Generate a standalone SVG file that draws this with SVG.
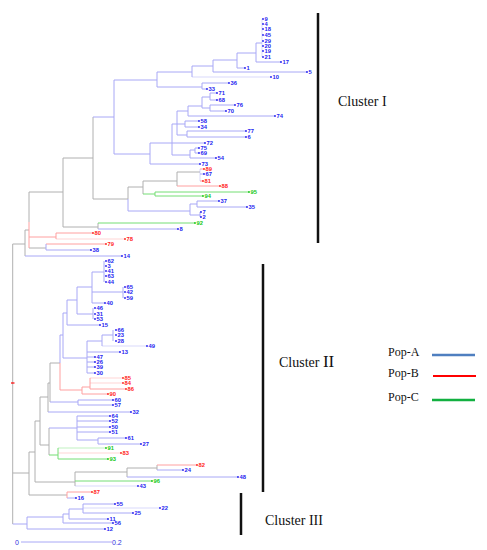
<svg xmlns="http://www.w3.org/2000/svg" width="487" height="550" viewBox="0 0 487 550">
<style>
.b{stroke:#a8a8f6;stroke-width:1;fill:none}
.r{stroke:#ffa0a0;stroke-width:1;fill:none}
.g{stroke:#74de74;stroke-width:1;fill:none}
.k{stroke:#b0b0b0;stroke-width:1;fill:none}
.f{stroke-opacity:0.45}
text{font-family:"Liberation Sans",Arial,sans-serif}
.lb,.lr,.lg{font-size:5.8px;font-weight:bold}
.lb{fill:#1c1cf0}.lr{fill:#ff1c1c}.lg{fill:#14c814}
.cl{font-family:"Liberation Serif","Times New Roman",serif;fill:#111}
.bar{stroke:#111;stroke-width:2.5}
</style>
<rect width="487" height="550" fill="#fff"/>
<g id="connectors">
<path class="k" d="M12.7 244V524M12.7 244H25M12.7 473H29"/>
<path class="b" d="M12.7 524H27"/>
<path stroke="#ff0000" stroke-width="1.2" d="M11 383H14.5"/>
<path class="k" d="M25 230V256M25 230H29M29 192V222M29 192H63M29 248H46M63 158V227M63 158H93M63 227H98M98 223V229M93 117V199M93 199H128M128 187V199M128 187H143M143 181V194M143 181H177M177 172V186M177 172H200"/>
<path class="r" d="M29 222V248M29 237H56M56 233V239M56 233H93M46 244H106M177 186H220M200 169H204M200 181H203"/>
<path class="r f" d="M56 239H125"/>
<path class="b" d="M25 256H122M46 244V250M46 250H91M98 229H178M93 117H114M128 199V211M128 211H190M190 204V215M190 204H197M190 215H200M197 201V207M197 201H219M197 207H247M200 212V217M200 212H201M200 217H201M200 174H204"/>
<path class="b f" d="M200 169V181"/>
<path class="g" d="M98 223H195M143 194H155M155 192V196M155 192H249M155 196H203"/>
<path class="b" d="M114 80V154M114 80H157M114 154H150M157 72V87M157 72H192M157 87H202M202 83V89M202 83H229M202 89H207M192 66V77M192 66H213M213 60V72M213 60H237M213 72H307M237 53V68M237 53H256M237 68H245M256 43V62M256 43H262M256 62H281"/>
<path class="b f" d="M192 77H271M262 19V57"/>
<path class="b" d="M150 143V164M150 143H172M150 164H200M172 124V155M172 124H177M172 143H205M172 155H190M177 111V135M177 111H188M177 124H185M177 135H187M188 106V116M188 106H202M188 116H275M202 97V108M202 97H210M202 108H210M210 93V100M210 93H217M210 100H217M210 105V111M210 105H235M210 111H226M185 121V127M185 121H199M185 127H199M187 131V137M187 131H246M187 137H246M190 150V158M190 150H195M190 158H216M195 148V153M195 148H199M195 153H199"/>
<path class="k" d="M29 452V495M29 452H35M29 495H67M35 421V482M35 421H40M35 482H75M40 397V445M40 397H48M40 445H49M48 383V412M48 383H50M50 363V402M50 363H60M49 428V455M75 472V486M75 472H127M127 468V477M127 468H157M157 465V470"/>
<path class="b" d="M104 261V282M123 287V298M92 272V303M92 272H104M92 292H123M92 303H105M93 308V319M77 287V314M77 287H92M77 314H93M67 300V325M67 300H77M67 325H100M63 313V358M63 313H67M63 358H87M87 341V373M87 341H102M87 352H120M87 357H95M87 362H95M87 367H95M87 373H95M102 335V346M102 335H113M113 330V341M60 335V363M60 335H63M50 402H78M78 400V405M78 400H113M78 405H113M48 412H131M49 428H77M77 416V440M77 416H110M77 421H110M77 427H110M77 432H110M77 440H98M98 438V444M98 438H126M98 444H141M127 477H238M157 470H183M67 498H76"/>
<path class="b f" d="M102 346H147M75 486H138"/>
<path class="r" d="M60 363V390M60 390H82M82 387V394M82 387H90M82 394H108M90 378V389M90 389H126M157 465H197M67 492V498M67 492H92"/>
<path class="r f" d="M90 378H123M90 383H123M58 453H121"/>
<path class="g" d="M49 455H58M58 448V459M58 459H108M75 481H152"/>
<path class="g f" d="M58 448H106"/>
<path class="b" d="M27 517V529M27 517H63M27 529H105M63 514V523M63 514H69M63 523H113M69 509V519M69 509H83M69 519H108M83 504V513M83 504H115M83 513H133"/>
<path class="b f" d="M83 508H160"/>
<path class="b" d="M21 542H112"/>
</g>
<g id="leaves-cluster1" class="lb">
<g id="n9"><circle cx="263" cy="19" r="0.9"/><text x="264.5" y="21">9</text></g>
<g id="n4"><circle cx="263" cy="24" r="0.9"/><text x="264.5" y="26">4</text></g>
<g id="n18"><circle cx="263" cy="29" r="0.9"/><text x="264.5" y="31">18</text></g>
<g id="n45"><circle cx="263" cy="35" r="0.9"/><text x="264.5" y="37">45</text></g>
<g id="n29"><circle cx="263" cy="41" r="0.9"/><text x="264.5" y="43">29</text></g>
<g id="n20"><circle cx="263" cy="46" r="0.9"/><text x="264.5" y="48">20</text></g>
<g id="n19"><circle cx="263" cy="51" r="0.9"/><text x="264.5" y="53">19</text></g>
<g id="n21"><circle cx="263" cy="57" r="0.9"/><text x="264.5" y="59">21</text></g>
<g id="n17"><circle cx="281" cy="62" r="0.9"/><text x="282.5" y="64">17</text></g>
<g id="n1"><circle cx="245" cy="68" r="0.9"/><text x="246.5" y="70">1</text></g>
<g id="n5"><circle cx="307" cy="72" r="0.9"/><text x="308.5" y="74">5</text></g>
<g id="n10"><circle cx="271" cy="77" r="0.9"/><text x="272.5" y="79">10</text></g>
<g id="n36"><circle cx="229" cy="83" r="0.9"/><text x="230.5" y="85">36</text></g>
<g id="n33"><circle cx="207" cy="89" r="0.9"/><text x="208.5" y="91">33</text></g>
<g id="n71"><circle cx="217" cy="93" r="0.9"/><text x="218.5" y="95">71</text></g>
<g id="n68"><circle cx="217" cy="100" r="0.9"/><text x="218.5" y="102">68</text></g>
<g id="n76"><circle cx="235" cy="105" r="0.9"/><text x="236.5" y="107">76</text></g>
<g id="n70"><circle cx="226" cy="111" r="0.9"/><text x="227.5" y="113">70</text></g>
<g id="n74"><circle cx="275" cy="116" r="0.9"/><text x="276.5" y="118">74</text></g>
<g id="n58"><circle cx="199" cy="121" r="0.9"/><text x="200.5" y="123">58</text></g>
<g id="n34"><circle cx="199" cy="127" r="0.9"/><text x="200.5" y="129">34</text></g>
<g id="n77"><circle cx="246" cy="131" r="0.9"/><text x="247.5" y="133">77</text></g>
<g id="n6"><circle cx="246" cy="137" r="0.9"/><text x="247.5" y="139">6</text></g>
<g id="n72"><circle cx="205" cy="143" r="0.9"/><text x="206.5" y="145">72</text></g>
<g id="n75"><circle cx="199" cy="148" r="0.9"/><text x="200.5" y="150">75</text></g>
<g id="n69"><circle cx="199" cy="153" r="0.9"/><text x="200.5" y="155">69</text></g>
<g id="n54"><circle cx="216" cy="158" r="0.9"/><text x="217.5" y="160">54</text></g>
<g id="n73"><circle cx="200" cy="164" r="0.9"/><text x="201.5" y="166">73</text></g>
<g id="n89" class="lr"><circle cx="204" cy="169" r="0.9"/><text x="205.5" y="171">89</text></g>
<g id="n67"><circle cx="204" cy="174" r="0.9"/><text x="205.5" y="176">67</text></g>
<g id="n81" class="lr"><circle cx="203" cy="181" r="0.9"/><text x="204.5" y="183">81</text></g>
<g id="n88" class="lr"><circle cx="220" cy="186" r="0.9"/><text x="221.5" y="188">88</text></g>
<g id="n95" class="lg"><circle cx="249" cy="192" r="0.9"/><text x="250.5" y="194">95</text></g>
<g id="n94" class="lg"><circle cx="203" cy="196" r="0.9"/><text x="204.5" y="198">94</text></g>
<g id="n37"><circle cx="219" cy="201" r="0.9"/><text x="220.5" y="203">37</text></g>
<g id="n35"><circle cx="247" cy="207" r="0.9"/><text x="248.5" y="209">35</text></g>
<g id="n7"><circle cx="201" cy="212" r="0.9"/><text x="202.5" y="214">7</text></g>
<g id="n2"><circle cx="201" cy="217" r="0.9"/><text x="202.5" y="219">2</text></g>
<g id="n92" class="lg"><circle cx="195" cy="223" r="0.9"/><text x="196.5" y="225">92</text></g>
<g id="n8"><circle cx="178" cy="229" r="0.9"/><text x="179.5" y="231">8</text></g>
<g id="n80" class="lr"><circle cx="93" cy="233" r="0.9"/><text x="94.5" y="235">80</text></g>
<g id="n78" class="lr"><circle cx="125" cy="239" r="0.9"/><text x="126.5" y="241">78</text></g>
<g id="n79" class="lr"><circle cx="106" cy="244" r="0.9"/><text x="107.5" y="246">79</text></g>
<g id="n38"><circle cx="91" cy="250" r="0.9"/><text x="92.5" y="252">38</text></g>
<g id="n14"><circle cx="122" cy="256" r="0.9"/><text x="123.5" y="258">14</text></g>
</g>
<g id="leaves-cluster2" class="lb">
<g id="n62"><circle cx="106" cy="261" r="0.9"/><text x="107.5" y="263">62</text></g>
<g id="n3"><circle cx="106" cy="266" r="0.9"/><text x="107.5" y="268">3</text></g>
<g id="n41"><circle cx="106" cy="271" r="0.9"/><text x="107.5" y="273">41</text></g>
<g id="n63"><circle cx="106" cy="276" r="0.9"/><text x="107.5" y="278">63</text></g>
<g id="n44"><circle cx="106" cy="282" r="0.9"/><text x="107.5" y="284">44</text></g>
<g id="n65"><circle cx="125" cy="287" r="0.9"/><text x="126.5" y="289">65</text></g>
<g id="n42"><circle cx="125" cy="292" r="0.9"/><text x="126.5" y="294">42</text></g>
<g id="n59"><circle cx="125" cy="298" r="0.9"/><text x="126.5" y="300">59</text></g>
<g id="n40"><circle cx="105" cy="303" r="0.9"/><text x="106.5" y="305">40</text></g>
<g id="n46"><circle cx="95" cy="308" r="0.9"/><text x="96.5" y="310">46</text></g>
<g id="n31"><circle cx="95" cy="314" r="0.9"/><text x="96.5" y="316">31</text></g>
<g id="n53"><circle cx="95" cy="319" r="0.9"/><text x="96.5" y="321">53</text></g>
<g id="n15"><circle cx="100" cy="325" r="0.9"/><text x="101.5" y="327">15</text></g>
<g id="n66"><circle cx="116" cy="330" r="0.9"/><text x="117.5" y="332">66</text></g>
<g id="n23"><circle cx="116" cy="335" r="0.9"/><text x="117.5" y="337">23</text></g>
<g id="n28"><circle cx="116" cy="341" r="0.9"/><text x="117.5" y="343">28</text></g>
<g id="n49"><circle cx="147" cy="346" r="0.9"/><text x="148.5" y="348">49</text></g>
<g id="n13"><circle cx="120" cy="352" r="0.9"/><text x="121.5" y="354">13</text></g>
<g id="n47"><circle cx="95" cy="357" r="0.9"/><text x="96.5" y="359">47</text></g>
<g id="n26"><circle cx="95" cy="362" r="0.9"/><text x="96.5" y="364">26</text></g>
<g id="n39"><circle cx="95" cy="367" r="0.9"/><text x="96.5" y="369">39</text></g>
<g id="n30"><circle cx="95" cy="373" r="0.9"/><text x="96.5" y="375">30</text></g>
<g id="n85" class="lr"><circle cx="123" cy="378" r="0.9"/><text x="124.5" y="380">85</text></g>
<g id="n84" class="lr"><circle cx="123" cy="383" r="0.9"/><text x="124.5" y="385">84</text></g>
<g id="n86" class="lr"><circle cx="126" cy="389" r="0.9"/><text x="127.5" y="391">86</text></g>
<g id="n90" class="lr"><circle cx="108" cy="394" r="0.9"/><text x="109.5" y="396">90</text></g>
<g id="n60"><circle cx="113" cy="400" r="0.9"/><text x="114.5" y="402">60</text></g>
<g id="n57"><circle cx="113" cy="405" r="0.9"/><text x="114.5" y="407">57</text></g>
<g id="n32"><circle cx="131" cy="412" r="0.9"/><text x="132.5" y="414">32</text></g>
<g id="n64"><circle cx="110" cy="416" r="0.9"/><text x="111.5" y="418">64</text></g>
<g id="n52"><circle cx="110" cy="421" r="0.9"/><text x="111.5" y="423">52</text></g>
<g id="n50"><circle cx="110" cy="427" r="0.9"/><text x="111.5" y="429">50</text></g>
<g id="n51"><circle cx="110" cy="432" r="0.9"/><text x="111.5" y="434">51</text></g>
<g id="n61"><circle cx="126" cy="438" r="0.9"/><text x="127.5" y="440">61</text></g>
<g id="n27"><circle cx="141" cy="444" r="0.9"/><text x="142.5" y="446">27</text></g>
<g id="n91" class="lg"><circle cx="106" cy="448" r="0.9"/><text x="107.5" y="450">91</text></g>
<g id="n83" class="lr"><circle cx="121" cy="453" r="0.9"/><text x="122.5" y="455">83</text></g>
<g id="n93" class="lg"><circle cx="108" cy="459" r="0.9"/><text x="109.5" y="461">93</text></g>
<g id="n82" class="lr"><circle cx="197" cy="465" r="0.9"/><text x="198.5" y="467">82</text></g>
<g id="n24"><circle cx="183" cy="470" r="0.9"/><text x="184.5" y="472">24</text></g>
<g id="n48"><circle cx="238" cy="477" r="0.9"/><text x="239.5" y="479">48</text></g>
<g id="n96" class="lg"><circle cx="152" cy="481" r="0.9"/><text x="153.5" y="483">96</text></g>
<g id="n43"><circle cx="138" cy="486" r="0.9"/><text x="139.5" y="488">43</text></g>
<g id="n87" class="lr"><circle cx="92" cy="492" r="0.9"/><text x="93.5" y="494">87</text></g>
<g id="n16"><circle cx="76" cy="498" r="0.9"/><text x="77.5" y="500">16</text></g>
</g>
<g id="leaves-cluster3" class="lb">
<g id="n55"><circle cx="115" cy="504" r="0.9"/><text x="116.5" y="506">55</text></g>
<g id="n22"><circle cx="160" cy="508" r="0.9"/><text x="161.5" y="510">22</text></g>
<g id="n25"><circle cx="133" cy="513" r="0.9"/><text x="134.5" y="515">25</text></g>
<g id="n11"><circle cx="108" cy="519" r="0.9"/><text x="109.5" y="521">11</text></g>
<g id="n56"><circle cx="113" cy="523" r="0.9"/><text x="114.5" y="525">56</text></g>
<g id="n12"><circle cx="105" cy="529" r="0.9"/><text x="106.5" y="531">12</text></g>
</g>
<g id="scale">
<text x="15" y="545" fill="#3030e0" font-size="7">0</text>
<text x="112" y="545" fill="#3030e0" font-size="7">0.2</text>
</g>
<g id="cluster-I"><line class="bar" x1="318" y1="13" x2="318" y2="243"/><text class="cl" x="338" y="106" font-size="14">Cluster I</text></g>
<g id="cluster-II"><line class="bar" x1="263" y1="264" x2="263" y2="492"/><text class="cl" x="279" y="367" font-size="14">Cluster <tspan font-size="17">II</tspan></text></g>
<g id="cluster-III"><line class="bar" x1="241" y1="493" x2="241" y2="535"/><text class="cl" x="265" y="525" font-size="14">Cluster III</text></g>
<g id="legend">
<text class="cl" x="388" y="356" font-size="12">Pop-A</text>
<line x1="432" y1="355" x2="475" y2="355" stroke="#4f7fc0" stroke-width="2.5"/>
<text class="cl" x="388" y="377" font-size="12">Pop-B</text>
<line x1="433" y1="376" x2="476" y2="376" stroke="#ff0000" stroke-width="2"/>
<text class="cl" x="388" y="401" font-size="12">Pop-C</text>
<line x1="432" y1="400" x2="475" y2="400" stroke="#12b040" stroke-width="2.5"/>
</g>
</svg>
